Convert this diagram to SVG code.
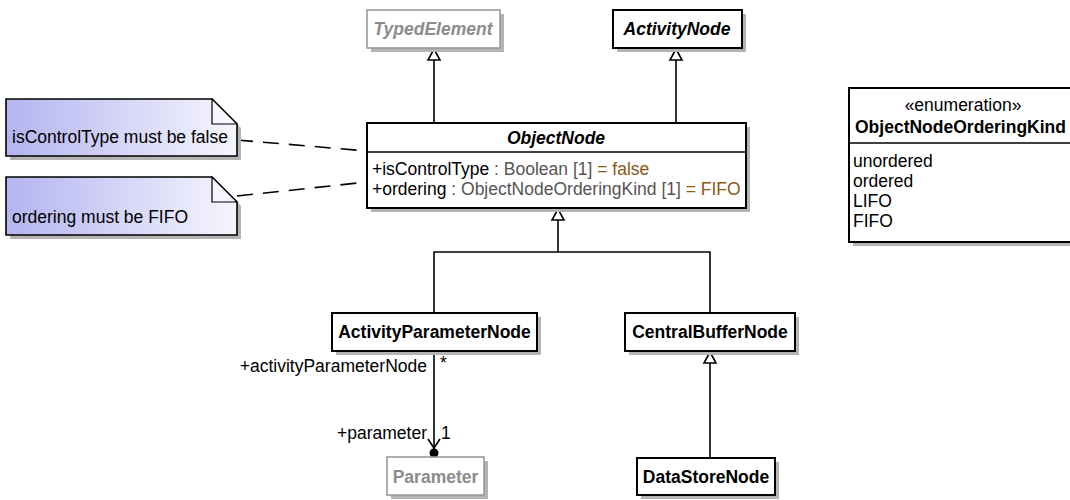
<svg xmlns="http://www.w3.org/2000/svg" width="1070" height="500" viewBox="0 0 1070 500">
<defs>
<linearGradient id="noteGrad" x1="0" y1="0" x2="1" y2="0">
<stop offset="0" stop-color="#b4b4f0"/>
<stop offset="1" stop-color="#f6f6fe"/>
</linearGradient>
</defs>
<style>
text{font-family:"Liberation Sans",Arial,sans-serif;font-size:17.5px;fill:#000}
.box{fill:#fff;stroke:#000;stroke-width:2}
.gbox{fill:#fff;stroke:#999;stroke-width:1.6}
.sh{fill:#b4b4b4}
.cls{font-weight:bold;text-anchor:middle}
.abs{font-weight:bold;font-style:italic;text-anchor:middle}
.gray{fill:#8c8c8c}
.typ{fill:#555}
.val{fill:#8a5a14}
.edge{fill:none;stroke:#000;stroke-width:1.6}
.tri{fill:#fff;stroke:#000;stroke-width:1.6}
.dash{fill:none;stroke:#000;stroke-width:1.6;stroke-dasharray:16 10}
.note{fill:url(#noteGrad);stroke:#000;stroke-width:1.6}
.fold{fill:#f6f6fe;stroke:#000;stroke-width:1.2}
</style>

<g id="connectors">
<line class="edge" x1="434" y1="123" x2="434" y2="60"/>
<polygon class="tri" points="434,49 428,60 440,60"/>
<line class="edge" x1="676" y1="123" x2="676" y2="60"/>
<polygon class="tri" points="676,49 670,60 682,60"/>
<path class="edge" d="M434,313 L434,252 L710,252 L710,313"/>
<line class="edge" x1="558" y1="252" x2="558" y2="220"/>
<polygon class="tri" points="558,209 552,220 564,220"/>
<line class="edge" x1="710" y1="458" x2="710" y2="363"/>
<polygon class="tri" points="710,352 704,363 716,363"/>
<line class="edge" x1="434" y1="351" x2="434" y2="449"/>
<path class="edge" d="M428,439 L434,448 L440,439"/>
<circle cx="434" cy="453" r="4.5" fill="#000"/>
<line class="dash" x1="237" y1="140" x2="367" y2="151"/>
<line class="dash" x1="237" y1="196" x2="367" y2="182"/>
<text x="427" y="372" text-anchor="end">+activityParameterNode</text>
<text x="440" y="369">*</text>
<text x="427" y="439" text-anchor="end">+parameter</text>
<text x="441" y="439">1</text>
</g>

<g id="TypedElement">
<rect class="sh" x="371" y="14" width="133" height="38"/>
<rect class="gbox" x="367" y="10" width="133" height="38"/>
<text class="abs gray" x="433" y="35">TypedElement</text>
</g>

<g id="ActivityNode">
<rect class="sh" x="617" y="14" width="129" height="38"/>
<rect class="box" x="613" y="10" width="129" height="38"/>
<text class="abs" x="677" y="35">ActivityNode</text>
</g>

<g id="ObjectNode">
<rect class="sh" x="371" y="127" width="379" height="85"/>
<rect class="box" x="367" y="123" width="379" height="85"/>
<line x1="367" y1="152" x2="746" y2="152" stroke="#000" stroke-width="1.6"/>
<text class="abs" x="556" y="144">ObjectNode</text>
<text x="372" y="175">+isControlType<tspan class="typ"> : Boolean [1]</tspan><tspan class="val"> = false</tspan></text>
<text x="372" y="195">+ordering<tspan class="typ"> : ObjectNodeOrderingKind [1]</tspan><tspan class="val"> = FIFO</tspan></text>
</g>

<g id="ActivityParameterNode">
<rect class="sh" x="336" y="317" width="205" height="38"/>
<rect class="box" x="332" y="313" width="205" height="38"/>
<text class="cls" x="434.5" y="338">ActivityParameterNode</text>
</g>

<g id="CentralBufferNode">
<rect class="sh" x="629" y="317" width="170" height="38"/>
<rect class="box" x="625" y="313" width="170" height="38"/>
<text class="cls" x="710" y="338">CentralBufferNode</text>
</g>

<g id="DataStoreNode">
<rect class="sh" x="641" y="462" width="138" height="37"/>
<rect class="box" x="637" y="458" width="138" height="37"/>
<text class="cls" x="706" y="483">DataStoreNode</text>
</g>

<g id="Parameter">
<rect class="sh" x="391" y="461" width="97" height="38"/>
<rect class="gbox" x="387" y="457" width="97" height="38"/>
<text class="cls gray" x="435.5" y="483">Parameter</text>
</g>

<g id="ObjectNodeOrderingKind">
<rect class="sh" x="853" y="92" width="230" height="154"/>
<rect class="box" x="849" y="88" width="230" height="154"/>
<line x1="849" y1="143" x2="1079" y2="143" stroke="#000" stroke-width="1.6"/>
<text x="963" y="111" text-anchor="middle">«enumeration»</text>
<text x="855" y="133" font-weight="bold">ObjectNodeOrderingKind</text>
<text x="853" y="167">unordered</text>
<text x="853" y="187">ordered</text>
<text x="853" y="207">LIFO</text>
<text x="853" y="227">FIFO</text>
</g>

<g id="note1">
<path class="sh" d="M10,103 L216,103 L241,128 L241,160 L10,160 Z"/>
<path class="note" d="M6,99 L212,99 L237,124 L237,156 L6,156 Z"/>
<path class="fold" d="M212,99 L212,124 L237,124 Z"/>
<text x="12" y="143">isControlType must be false</text>
</g>

<g id="note2">
<path class="sh" d="M10,181 L216,181 L241,206 L241,239 L10,239 Z"/>
<path class="note" d="M6,177 L212,177 L237,202 L237,235 L6,235 Z"/>
<path class="fold" d="M212,177 L212,202 L237,202 Z"/>
<text x="12" y="223">ordering must be FIFO</text>
</g>
</svg>
